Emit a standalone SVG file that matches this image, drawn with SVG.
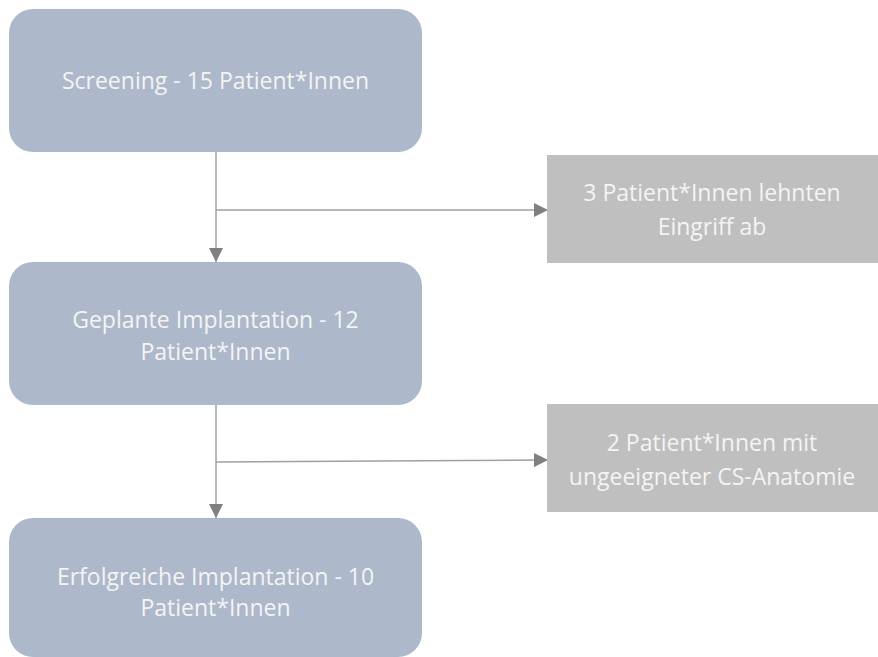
<svg xmlns="http://www.w3.org/2000/svg" width="878" height="657" viewBox="0 0 878 657">
<style>
.main{fill:#adb9ca}
.side{fill:#bfbfbf}
.t{font-family:"Open Sans","Liberation Sans",sans-serif;font-size:23px;fill:#f4f4f4;text-anchor:middle}
.c{stroke:#a0a0a0;stroke-width:1.5;fill:none}
</style>
<defs>
<marker id="ah" viewBox="0 0 14 14" refX="14" refY="7" markerWidth="14" markerHeight="14" markerUnits="userSpaceOnUse" orient="auto">
<path d="M0,0 L14,7 L0,14 Z" fill="#808080"/>
</marker>
</defs>
<rect width="878" height="657" fill="#ffffff"/>
<g id="connectors">
<line class="c" x1="216" y1="152" x2="216" y2="262" marker-end="url(#ah)"/>
<line class="c" x1="216" y1="210" x2="548" y2="210" marker-end="url(#ah)"/>
<line class="c" x1="216" y1="405" x2="216" y2="518" marker-end="url(#ah)"/>
<line class="c" x1="216" y1="462" x2="548" y2="460" marker-end="url(#ah)"/>
</g>
<g id="screening">
<rect class="main" x="9" y="9" width="413" height="143" rx="24"/>
<text class="t" x="215.5" y="89">Screening - 15 Patient*Innen</text>
</g>
<g id="geplant">
<rect class="main" x="9" y="262" width="413" height="143" rx="24"/>
<text class="t" x="215.5" y="328">Geplante Implantation - 12</text>
<text class="t" x="215.5" y="360">Patient*Innen</text>
</g>
<g id="erfolgreich">
<rect class="main" x="9" y="518" width="413" height="139" rx="24"/>
<text class="t" x="215.5" y="585">Erfolgreiche Implantation - 10</text>
<text class="t" x="215.5" y="616">Patient*Innen</text>
</g>
<g id="abgelehnt">
<rect class="side" x="547" y="155" width="331" height="108"/>
<text class="t" x="712" y="201">3 Patient*Innen lehnten</text>
<text class="t" x="712" y="235">Eingriff ab</text>
</g>
<g id="anatomie">
<rect class="side" x="547" y="404" width="331" height="108"/>
<text class="t" x="712" y="451">2 Patient*Innen mit</text>
<text class="t" x="712" y="485">ungeeigneter CS-Anatomie</text>
</g>
</svg>
